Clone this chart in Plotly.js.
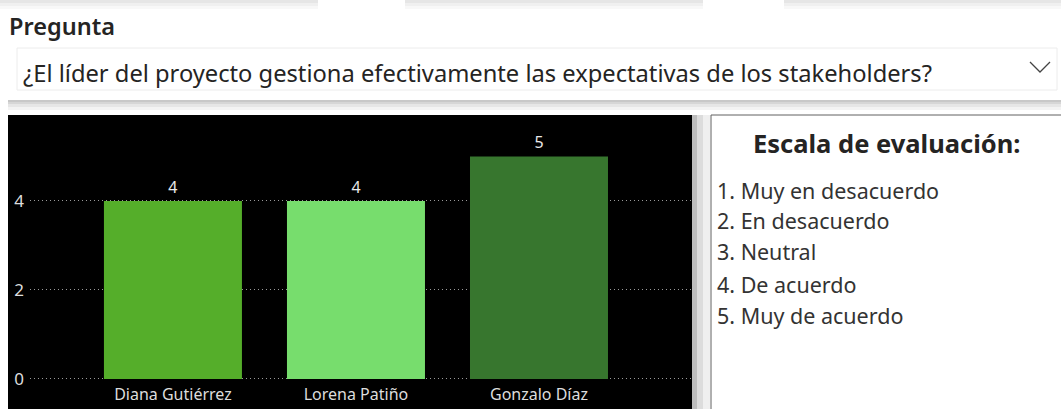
<!DOCTYPE html>
<html>
<head>
<meta charset="utf-8">
<script src="https://cdn.plot.ly/plotly-3.0.1.min.js"></script>
<style>
html,body{margin:0;padding:0;background:#fff;overflow:hidden;}
#chart{width:1061px;height:409px;}
</style>
</head>
<body>
<div id="chart"></div>
<script>
// ---- data ----
const personas = ["Diana Gutiérrez", "Lorena Patiño", "Gonzalo Díaz"];
const puntajes = [4, 4, 5];
const coloresBarras = ["#55AE2A", "#77DD6D", "#37762E"];
const yTicks = [0, 2, 4];
const slicerTitulo = "Pregunta";
const pregunta = "¿El líder del proyecto gestiona efectivamente las expectativas de los stakeholders?";
const escalaTitulo = "Escala de evaluación:";
const escala = ["1. Muy en desacuerdo", "2. En desacuerdo", "3. Neutral", "4. De acuerdo", "5. Muy de acuerdo"];

// ---- layout helpers (pixel -> paper) ----
const W = 1061, H = 409;
const px = x => x / W;
const py = y => 1 - y / H;
const FONT = "'Segoe UI', 'Noto Sans', 'Open Sans', sans-serif";

const shapes = [];
function rect(x0, y0, x1, y1, fill, line, opacity) {
  shapes.push({type: "rect", xref: "paper", yref: "paper", layer: "below",
    x0: px(x0), x1: px(x1), y0: py(y1), y1: py(y0),
    fillcolor: fill, opacity: opacity === undefined ? 1 : opacity,
    line: line ? {color: line, width: 1} : {width: 0}});
}
// faint shadows of other cards at top
[[0, 318], [405, 703], [784, 1061]].forEach(s => {
  rect(s[0], 0, s[1], 3, "#e6e6e6", null);
  rect(s[0], 3, s[1], 6, "#f0f0f0", null);
  rect(s[0], 6, s[1], 9, "#f8f8f8", null);
});
// slicer card shadow
rect(8, 100, 1061, 102, "#c8c8c8", null);
rect(8, 102, 1061, 104, "#d6d6d6", null);
rect(8, 104, 1061, 107, "#e6e6e6", null);
rect(8, 107, 1061, 110, "#f3f3f3", null);
// dropdown box
rect(17, 48, 1057, 90, "#ffffff", "#ececec");
// chevron
shapes.push({type: "path", xref: "paper", yref: "paper", layer: "above",
  path: "M " + px(1030) + "," + py(62) + " L " + px(1040) + "," + py(72) + " L " + px(1050) + "," + py(62),
  line: {color: "#444444", width: 1.3}});
// dark chart panel
rect(8, 115, 692, 412, "#000000", null);
// shadow between panels
rect(692, 115, 697, 412, "#bdbdbd", null);
rect(697, 115, 703, 412, "#dcdcdc", null);
rect(703, 115, 710, 412, "#efefef", null);
// text panel
rect(711, 115, 1070, 420, "#ffffff", "#606060");

const annotations = [
  {text: slicerTitulo, x: px(7), y: py(26), xanchor: "left", yanchor: "middle",
   font: {family: FONT, size: 23.5, weight: 600, color: "#252423"}},
  {text: pregunta, x: px(21), y: py(73), xanchor: "left", yanchor: "middle",
   font: {family: FONT, size: 23.7, color: "#252423"}},
  {text: "<b>" + escalaTitulo + "</b>", x: px(886), y: py(143), xanchor: "center", yanchor: "middle",
   font: {family: FONT, size: 25.5, color: "#252423"}}
];
const escalaY = [190, 220, 252, 284, 315];
escala.forEach((t, i) => annotations.push({
  text: t, x: px(715), y: py(escalaY[i]), xanchor: "left", yanchor: "middle",
  font: {family: FONT, size: 21.5, color: "#333333"}
}));
annotations.forEach(a => { a.xref = "paper"; a.yref = "paper"; a.showarrow = false; });

// ---- chart ----
const trace = {
  type: "bar",
  x: personas,
  y: puntajes,
  marker: {color: coloresBarras},
  width: 0.754,
  text: puntajes.map(String),
  textposition: "outside",
  textfont: {family: FONT, size: 16, color: "#e8e8e8"},
  cliponaxis: false,
  hoverinfo: "skip"
};

const layout = {
  width: W, height: H,
  margin: {l: 0, r: 0, t: 0, b: 0},
  paper_bgcolor: "#ffffff",
  plot_bgcolor: "rgba(0,0,0,0)",
  showlegend: false,
  shapes: shapes,
  annotations: annotations,
  xaxis: {
    domain: [px(30), px(692)],
    range: [-0.781, 2.836],
    showgrid: false, zeroline: false, showline: false, ticks: "",
    tickfont: {family: FONT, size: 16, color: "#dddddd"},
    fixedrange: true
  },
  yaxis: {
    domain: [py(383), py(120)],
    range: [-0.09, 5.82],
    tickvals: yTicks,
    ticktext: yTicks.map(String),
    showgrid: true, gridcolor: "#9a9a9a", griddash: "1px,3px", gridwidth: 1,
    zeroline: false, showline: false, ticks: "",
    ticklabelstandoff: 5,
    tickfont: {family: FONT, size: 17, color: "#dddddd"},
    fixedrange: true
  }
};

Plotly.newPlot("chart", [trace], layout, {displayModeBar: false, staticPlot: true});
</script>
</body>
</html>
